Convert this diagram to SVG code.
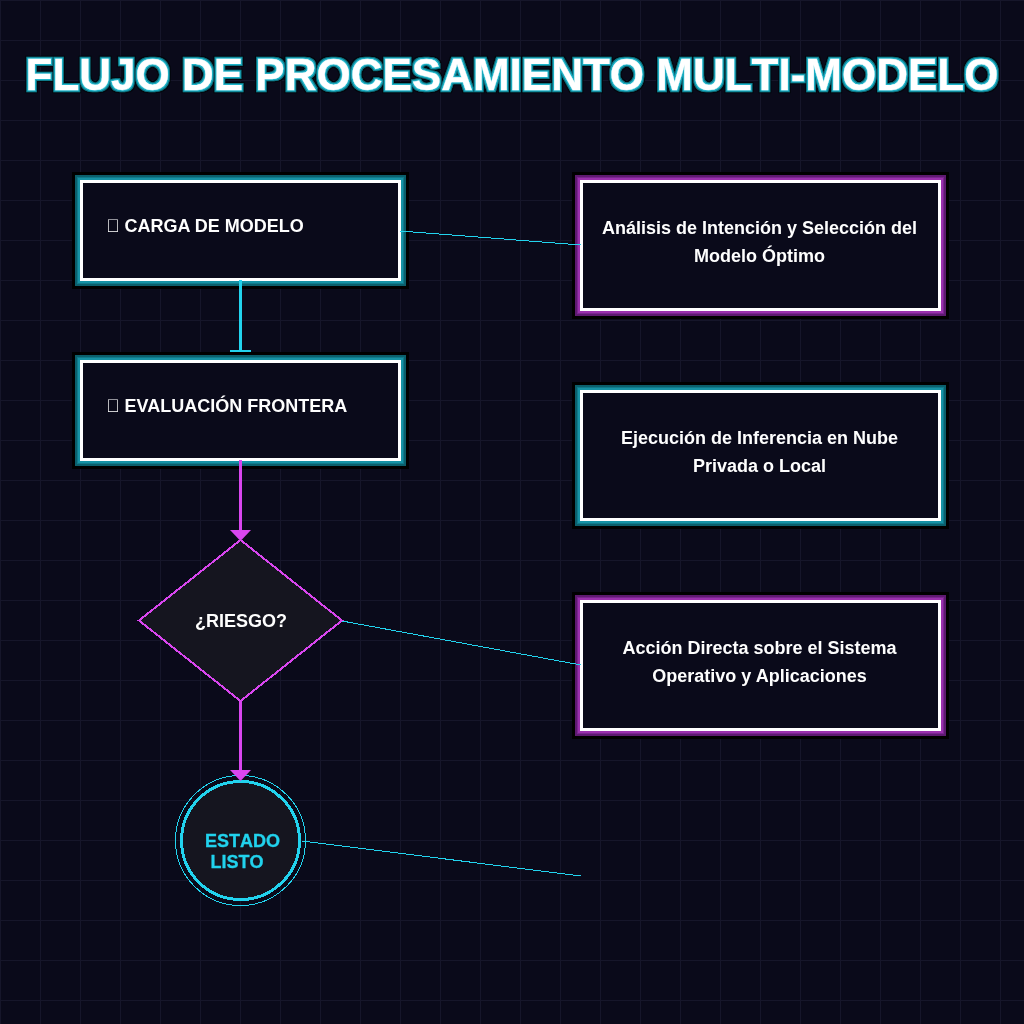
<svg xmlns="http://www.w3.org/2000/svg" width="1024" height="1024" viewBox="0 0 1024 1024">
<style>
text{font-family:"Liberation Sans",Arial,sans-serif;font-weight:700;fill:#fff;opacity:.995}
.lbl{font-size:18px}
.ctr{text-anchor:middle}
.box{fill:#0a0a1a;stroke:#fff;stroke-width:3;shape-rendering:crispEdges}
.cy{filter:url(#gc)}
.mg{filter:url(#gm)}
.thin{fill:none;stroke:#22d3ee;stroke-width:1;shape-rendering:crispEdges}
.vc{fill:none;stroke:#22d3ee;stroke-width:3;shape-rendering:crispEdges}
.vm{fill:none;stroke:#d946ef;stroke-width:3;shape-rendering:crispEdges}
.st{font-size:18px;fill:#22d3ee;stroke:#22d3ee;stroke-width:.3;font-kerning:none}
#title{font-size:44px;font-kerning:none;stroke:#fff;stroke-width:.3;opacity:1}
</style>
<defs>
<pattern id="g" width="40" height="40" patternUnits="userSpaceOnUse"><path d="M40 0H0V40" fill="none" stroke="#16162a" stroke-width="2"/></pattern>
<filter id="gt" x="-5%" y="-30%" width="110%" height="160%" color-interpolation-filters="sRGB">
<feMorphology in="SourceAlpha" operator="dilate" radius="3" result="d3"/><feFlood flood-color="#03070d"/><feComposite in2="d3" operator="in" result="a"/>
<feMorphology in="SourceAlpha" operator="dilate" radius="2" result="d2"/><feFlood flood-color="#0e7a8a"/><feComposite in2="d2" operator="in" result="b"/>
<feMorphology in="SourceAlpha" operator="dilate" radius="1" result="d1"/><feFlood flood-color="#1fb4c9"/><feComposite in2="d1" operator="in" result="c"/>
<feMerge><feMergeNode in="a"/><feMergeNode in="b"/><feMergeNode in="c"/><feMergeNode in="SourceGraphic"/></feMerge>
</filter>
<filter id="gc" x="-5%" y="-10%" width="110%" height="120%" color-interpolation-filters="sRGB">
<feMorphology in="SourceAlpha" operator="dilate" radius="8" result="d3"/><feFlood flood-color="#000"/><feComposite in2="d3" operator="in" result="a"/>
<feMorphology in="SourceAlpha" operator="dilate" radius="5" result="d2"/><feFlood flood-color="#0b5f6c"/><feComposite in2="d2" operator="in" result="b"/>
<feMorphology in="SourceAlpha" operator="dilate" radius="3" result="d1"/><feFlood flood-color="#0f7a8a"/><feComposite in2="d1" operator="in" result="c"/>
<feMorphology in="SourceAlpha" operator="dilate" radius="2" result="d0"/><feFlood flood-color="#1692a5"/><feComposite in2="d0" operator="in" result="e"/>
<feMerge><feMergeNode in="a"/><feMergeNode in="b"/><feMergeNode in="c"/><feMergeNode in="e"/><feMergeNode in="SourceGraphic"/></feMerge>
</filter>
<filter id="gm" x="-5%" y="-10%" width="110%" height="120%" color-interpolation-filters="sRGB">
<feMorphology in="SourceAlpha" operator="dilate" radius="8" result="d3"/><feFlood flood-color="#000"/><feComposite in2="d3" operator="in" result="a"/>
<feMorphology in="SourceAlpha" operator="dilate" radius="5" result="d2"/><feFlood flood-color="#5e1a70"/><feComposite in2="d2" operator="in" result="b"/>
<feMorphology in="SourceAlpha" operator="dilate" radius="3" result="d1"/><feFlood flood-color="#7a2590"/><feComposite in2="d1" operator="in" result="c"/>
<feMorphology in="SourceAlpha" operator="dilate" radius="2" result="d0"/><feFlood flood-color="#9b30ad"/><feComposite in2="d0" operator="in" result="e"/>
<feMerge><feMergeNode in="a"/><feMergeNode in="b"/><feMergeNode in="c"/><feMergeNode in="e"/><feMergeNode in="SourceGraphic"/></feMerge>
</filter>
</defs>
<rect width="1024" height="1024" fill="#0a0a1a"/>
<rect width="1024" height="1024" fill="url(#g)"/>
<text id="title" x="512" y="90" class="ctr" filter="url(#gt)">FLUJO DE PROCESAMIENTO MULTI-MODELO</text>
<g id="carga"><rect class="box cy" x="81.500" y="181.500" width="318" height="98"/><text class="lbl" x="106" y="232">&#xE000; CARGA DE MODELO</text></g>
<g id="evaluacion"><rect class="box cy" x="81.500" y="361.500" width="318" height="98"/><text class="lbl" x="106" y="412">&#xE000; EVALUACIÓN FRONTERA</text></g>
<g id="riesgo"><path d="M240.500 540L342 620.500L240.500 701L139 620.500Z" fill="#15151f" stroke="#d946ef" stroke-width="2" shape-rendering="crispEdges"/><text class="lbl ctr" x="241" y="627">¿RIESGO?</text></g>
<g id="estado"><circle cx="240.500" cy="840.500" r="65" fill="none" stroke="#22d3ee" stroke-width="1" shape-rendering="crispEdges"/><circle cx="240.500" cy="840.500" r="59" fill="#15151f" stroke="#22d3ee" stroke-width="3" shape-rendering="crispEdges"/><text class="st" x="205" y="847">ESTADO</text><text class="st" x="210.500" y="868">LISTO</text></g>
<g id="analisis"><rect class="box mg" x="581.500" y="181.500" width="358" height="128"/><text class="lbl ctr" x="759.500" y="234">Análisis de Intención y Selección del</text><text class="lbl ctr" x="759.500" y="262">Modelo Óptimo</text></g>
<g id="ejecucion"><rect class="box cy" x="581.500" y="391.500" width="358" height="128"/><text class="lbl ctr" x="759.500" y="444">Ejecución de Inferencia en Nube</text><text class="lbl ctr" x="759.500" y="472">Privada o Local</text></g>
<g id="accion"><rect class="box mg" x="581.500" y="601.500" width="358" height="128"/><text class="lbl ctr" x="759.500" y="654">Acción Directa sobre el Sistema</text><text class="lbl ctr" x="759.500" y="682">Operativo y Aplicaciones</text></g>
<g id="connectors">
<path class="thin" d="M400 231L581 245"/>
<path class="thin" d="M342 621L581 665"/>
<path class="thin" d="M302 841L581 876"/>
<path class="vc" d="M240.500 280V350"/><path d="M230 350.500H251" class="vc" style="stroke-width:2"/>
<path class="vm" d="M240.500 460V535"/><path d="M230 530H251L240.500 541Z" fill="#d946ef"/>
<path class="vm" d="M240.500 700V775"/><path d="M230 770H251L240.500 781Z" fill="#d946ef"/>
</g>
</svg>
